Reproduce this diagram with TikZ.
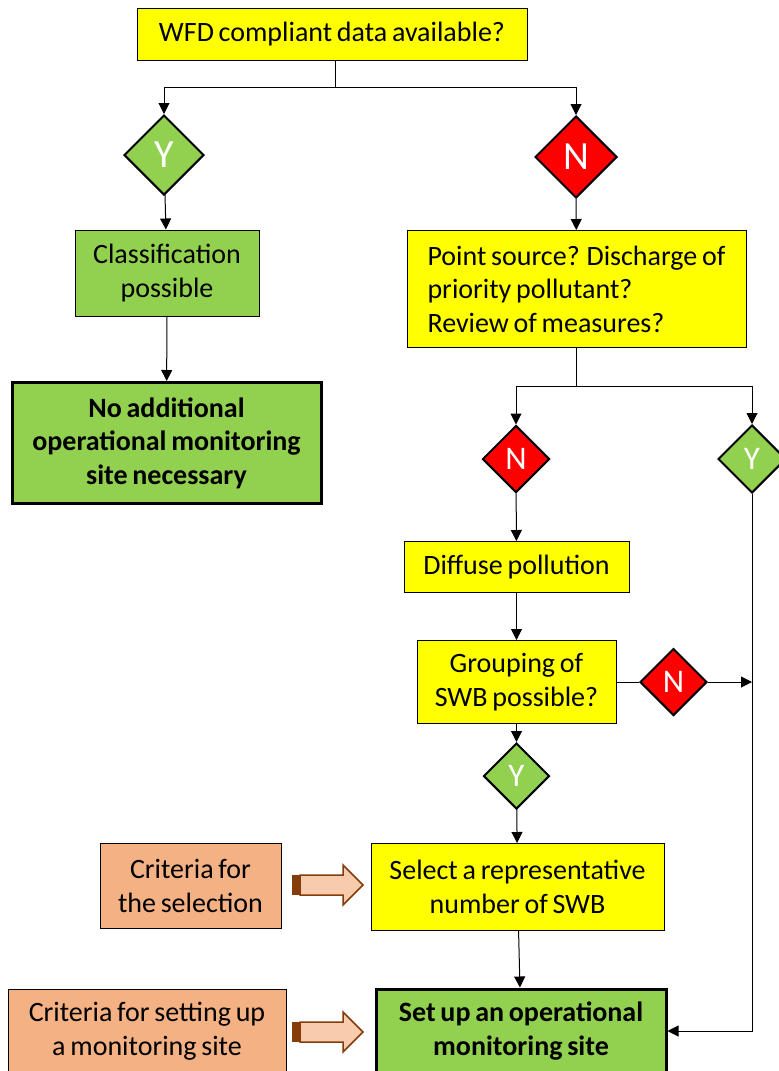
\documentclass[tikz,border=0pt]{standalone}
\usepackage{fontspec}
\setmainfont[WordSpace=0.75]{Carlito}
\usetikzlibrary{positioning, shapes.geometric, arrows.meta}
\definecolor{qyellow}{HTML}{FFFF00}
\definecolor{qgreen}{HTML}{92D050}
\definecolor{qred}{HTML}{FF0000}
\definecolor{qsalmon}{HTML}{F4B183}
\definecolor{qpeach}{HTML}{F8CBAD}
\definecolor{qbrown}{HTML}{843C0C}

\begin{document}
\begin{tikzpicture}[
          x=1pt, y=-1pt,
          box/.style={rectangle, draw, line width=1pt, fill=qyellow, align=center,
            inner sep=0pt, font=\fontsize{28}{33.5}\selectfont},
          gbox/.style={box, fill=qgreen},
          endbox/.style={box, fill=qgreen, line width=3pt, font=\fontsize{28}{33.5}\selectfont\bfseries},
          crit/.style={box, fill=qsalmon},
          yes/.style={diamond, draw, line width=2pt, fill=qgreen, text=white, inner sep=0pt},
          no/.style={yes, fill=qred},
          line/.style={line width=1pt},
          arr/.style={line, -{Triangle[length=11pt,width=11pt]}}
        ]
        \clip (0,0) rectangle (779,1071);
        % left branch
        \node[box, minimum width=390, minimum height=52] (wfd) at (332,34) {WFD compliant data available?};
        \node[yes, minimum size=80, font=\fontsize{40}{40}\selectfont] (y1) at (164,155) {Y};
        \node[no, minimum size=82, font=\fontsize{40}{40}\selectfont] (n1) at (576,157) {N};
        \node[gbox, minimum width=184, minimum height=86] (class) at (167,273) {Classification\\possible};
        \node[endbox, minimum width=309, minimum height=121] (noadd) at (166.5,443) {No additional\\operational monitoring\\site necessary};
        % right branch
        \node[box, minimum width=339, minimum height=117, align=left] (point) at (576.5,289) {Point source? Discharge of\\priority pollutant?\\Review of measures?};
        \node[no, minimum size=67, font=\fontsize{33}{33}\selectfont] (n2) at (516,459) {N};
        \node[yes, minimum size=68, font=\fontsize{33}{33}\selectfont] (y2) at (752,459) {Y};
        \node[box, minimum width=225, minimum height=51] (diffuse) at (516.5,567) {Diffuse pollution};
        \node[box, minimum width=199, minimum height=83] (group) at (516.5,682) {Grouping of\\SWB possible?};
        \node[no, minimum size=67, font=\fontsize{33}{33}\selectfont] (n3) at (673.5,682) {N};
        \node[yes, minimum size=66, font=\fontsize{33}{33}\selectfont] (y3) at (516.5,776) {Y};
        \node[box, minimum width=293, minimum height=87] (select) at (517.5,887) {Select a representative\\number of SWB};
        \node[endbox, minimum width=290, minimum height=84] (setup) at (521,1031) {Set up an operational\\monitoring site};
        % criteria
        \node[crit, minimum width=181, minimum height=85] (crit1) at (190.5,886) {Criteria for\\the selection};
        \node[crit, minimum width=278, minimum height=84] (crit2) at (147,1031) {Criteria for setting up\\a monitoring site};

        \draw[arr] ([xshift=3]wfd.south) -- ++(0,27) -| (y1.north);
        \draw[arr] ([xshift=3]wfd.south) -- ++(0,27) -| (n1.north);
        \draw[arr] (y1) -- (class);
        \draw[arr] (class) -- (noadd);
        \draw[arr] (n1) -- (point);
        \draw[arr] (point.south) -- ++(0,38) -| (n2.north);
        \draw[arr] (point.south) -- ++(0,38) -| (y2.north);
        \draw[arr] (n2) -- (diffuse);
        \draw[arr] (diffuse) -- (group);
        \draw[arr] (group) -- (y3);
        \draw[arr] (y3) -- (select);
        \draw[line] (group) -- (n3);
        \draw[arr] (n3) -- (n3 -| y2.south);
        \draw[arr] (y2.south) |- (setup.east);
        \draw[arr] (select) -- (setup);

        % block arrows
        \foreach \y in {885,1032} {
          \fill[qbrown] (292,\y-10) rectangle (300,\y+10);
          \draw[qbrown, fill=qpeach, line width=1.5pt] (300,\y-10) -- (343,\y-10) -- (343,\y-20)
            -- (363,\y) -- (343,\y+20) -- (343,\y+10) -- (300,\y+10) -- cycle;
        }
      \end{tikzpicture}
\end{document}
